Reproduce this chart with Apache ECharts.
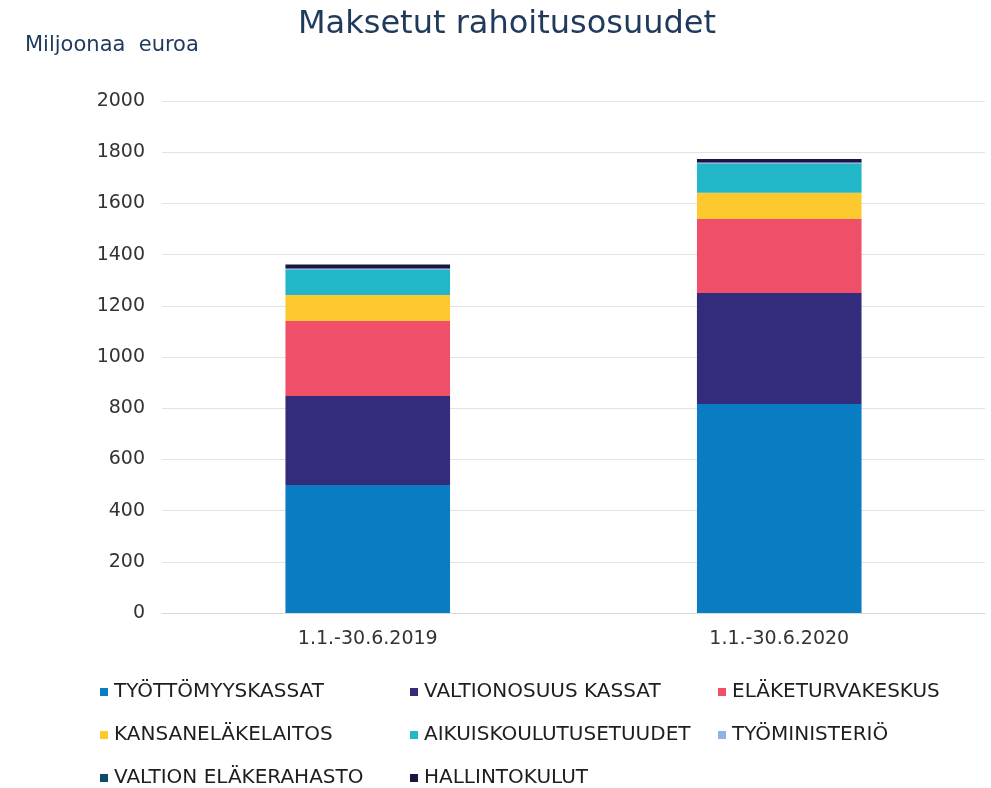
<!DOCTYPE html>
<html>
<head>
<meta charset="utf-8">
<script src="https://cdn.jsdelivr.net/npm/echarts@6/dist/echarts.min.js"></script>
<style>
  html, body { margin: 0; padding: 0; background: #fff; }
  #main { width: 991px; height: 788px; }
</style>
</head>
<body>
<div id="main"></div>
<script>
var categories = ['1.1.-30.6.2019', '1.1.-30.6.2020'];
var seriesNames = ['TYÖTTÖMYYSKASSAT', 'VALTIONOSUUS KASSAT', 'ELÄKETURVAKESKUS',
  'KANSANELÄKELAITOS', 'AIKUISKOULUTUSETUUDET', 'TYÖMINISTERIÖ',
  'VALTION ELÄKERAHASTO', 'HALLINTOKULUT'];
var tyottomyyskassat = [500, 816];
var valtionosuusKassat = [348, 434];
var elaketurvakeskus = [293, 289];
var kansanelakelaitos = [101, 103];
var aikuiskoulutus = [98, 112];
var tyoministerio = [5, 5];
var valtionElakerahasto = [2, 2];
var hallintokulut = [14, 12];
var colors = ['#0a7dc2', '#332c7c', '#ef4f69', '#fdc92f', '#22b7c8', '#8fb4e3', '#0f4a6e', '#1a1545'];

var chart = echarts.init(document.getElementById('main'));
var allData = [tyottomyyskassat, valtionosuusKassat, elaketurvakeskus, kansanelakelaitos,
  aikuiskoulutus, tyoministerio, valtionElakerahasto, hallintokulut];

var series = [];
for (var i = 0; i < seriesNames.length; i++) {
  series.push({
    name: seriesNames[i],
    type: 'bar',
    stack: 'total',
    barWidth: '40%',
    itemStyle: { color: colors[i] },
    data: allData[i]
  });
}

// legend in three columns, like the original
function legendCol(names, x) {
  return {
    data: names,
    orient: 'vertical',
    left: x,
    top: 682,
    height: 106,
    padding: 0,
    itemWidth: 8,
    itemHeight: 8,
    itemGap: 23,
    icon: 'rect',
    textStyle: { fontFamily: 'DejaVu Sans', fontSize: 20, color: '#1e1e1e', lineHeight: 20, padding: [0, 0, 0, 1] }
  };
}

var option = {
  animation: false,
  color: colors,
  title: {
    text: 'Maksetut rahoitusosuudet',
    left: 293,
    top: 4,
    textStyle: { fontFamily: 'DejaVu Sans', fontSize: 32, fontWeight: 'normal', color: '#1f3a5c' }
  },
  graphic: [{
    type: 'text',
    left: 25,
    top: 35,
    style: { text: 'Miljoonaa  euroa', font: '21px "DejaVu Sans"', fill: '#1f3a5c' }
  }],
  legend: [
    legendCol([seriesNames[0], seriesNames[3], seriesNames[6]], 100),
    legendCol([seriesNames[1], seriesNames[4], seriesNames[7]], 410),
    legendCol([seriesNames[2], seriesNames[5]], 718)
  ],
  grid: { left: 162, right: 6, top: 101, bottom: 175, containLabel: false },
  xAxis: {
    type: 'category',
    data: categories,
    axisTick: { show: false },
    axisLine: { lineStyle: { color: '#d9d9d9' } },
    axisLabel: { fontFamily: 'DejaVu Sans', fontSize: 19, color: '#333', margin: 17 }
  },
  yAxis: {
    type: 'value',
    min: 0,
    max: 2000,
    interval: 200,
    axisLine: { show: false },
    axisTick: { show: false },
    splitLine: { lineStyle: { color: '#e3e3e3' } },
    axisLabel: {
      fontFamily: 'DejaVu Sans', fontSize: 19, color: '#333', margin: 17,
      formatter: function (v) { return String(v); }
    }
  },
  series: series
};
chart.setOption(option);
window.addEventListener('resize', function () { chart.resize(); });
</script>
</body>
</html>
